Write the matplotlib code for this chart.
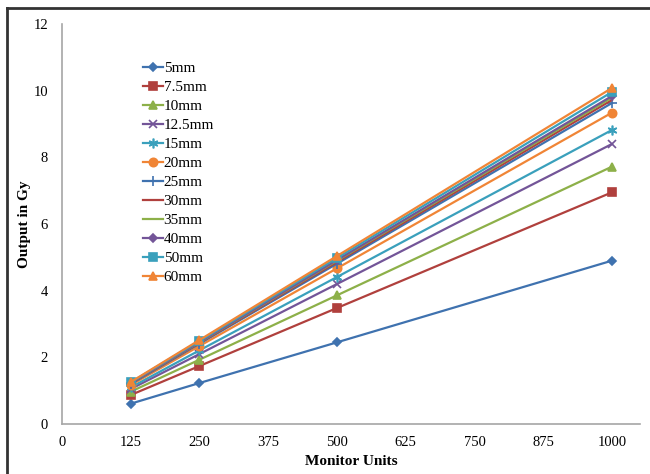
import matplotlib
matplotlib.use('Agg')
import matplotlib.pyplot as plt
from matplotlib.lines import Line2D

plt.rcParams['font.family'] = ['Liberation Serif', 'DejaVu Serif']

monitor_units = [125, 250, 500, 1000]

field_sizes = ['5mm', '7.5mm', '10mm', '12.5mm', '15mm', '20mm',
               '25mm', '30mm', '35mm', '40mm', '50mm', '60mm']

output_5 = [0.61, 1.23, 2.45, 4.90]
output_75 = [0.87, 1.74, 3.48, 6.95]
output_10 = [0.97, 1.93, 3.86, 7.72]
output_125 = [1.05, 2.10, 4.20, 8.40]
output_15 = [1.10, 2.21, 4.41, 8.82]
output_20 = [1.17, 2.34, 4.67, 9.34]
output_25 = [1.20, 2.41, 4.81, 9.63]
output_30 = [1.22, 2.43, 4.86, 9.72]
output_35 = [1.23, 2.45, 4.90, 9.79]
output_40 = [1.23, 2.46, 4.92, 9.84]
output_50 = [1.25, 2.49, 4.98, 9.96]
output_60 = [1.26, 2.52, 5.04, 10.08]

outputs = [output_5, output_75, output_10, output_125, output_15, output_20,
           output_25, output_30, output_35, output_40, output_50, output_60]

colors = ['#3F72AF', '#B0403D', '#8DB049', '#735598', '#3AA0BC', '#F08536',
          '#3F72AF', '#B0403D', '#8DB049', '#735598', '#3AA0BC', '#F08536']
markers = ['D', 's', '^', 'x', (6, 2, 0), 'o', '+', None, None, 'D', 's', '^']
msizes = [4, 5.5, 6, 6, 7, 6, 7, 0, 0, 4, 5.5, 6]

fig = plt.figure(figsize=(6.5, 4.74), dpi=100)
ax = fig.add_axes([62 / 650, 50 / 474, 578 / 650, 400 / 474])

for name, vals, c, m, ms in zip(field_sizes, outputs, colors, markers, msizes):
    ax.plot(monitor_units, vals, color=c, marker=m, markersize=ms,
            markeredgewidth=1.2, linewidth=1.6, label=name)

ax.set_xlim(0, 1051)
ax.set_ylim(0, 12)
ax.set_xticks(range(0, 1001, 125))
ax.set_yticks(range(0, 13, 2))
ax.tick_params(length=0, labelsize=10.5)
ax.tick_params(axis='x', pad=9)
ax.tick_params(axis='y', pad=10)
for side in ['top', 'right']:
    ax.spines[side].set_visible(False)
for side in ['left', 'bottom']:
    ax.spines[side].set_color('#a6a6a6')
    ax.spines[side].set_linewidth(1.2)

ax.set_xlabel('Monitor Units', fontsize=11, fontweight='bold', labelpad=4)
ax.set_ylabel('Output in Gy', fontsize=11, fontweight='bold', labelpad=2)

ax.legend(loc='upper left', bbox_to_anchor=(0.127, 0.925), frameon=False,
          fontsize=11, handlelength=1.3, handletextpad=0.05,
          labelspacing=0.345, borderpad=0)

# frame lines along the top and left edge of the figure
fig.add_artist(Line2D([7 / 650, 7 / 650], [0, 1 - 8 / 474],
                      transform=fig.transFigure, color='#333333', linewidth=2))
fig.add_artist(Line2D([7 / 650, 1], [1 - 8 / 474, 1 - 8 / 474],
                      transform=fig.transFigure, color='#333333', linewidth=2))

fig.savefig('out.png', dpi=100)
